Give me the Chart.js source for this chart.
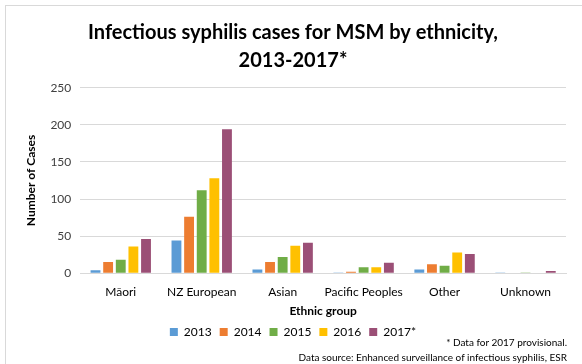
<!DOCTYPE html>
<html>
<head>
<meta charset="utf-8">
<script src="https://cdn.jsdelivr.net/npm/chart.js@4/dist/chart.umd.min.js"></script>
<style>
  html, body { margin: 0; padding: 0; background: #fff; }
  #wrap { position: relative; width: 582px; height: 364px; overflow: hidden; }
  #frame { position: absolute; left: 5px; top: 5px; width: 600px; height: 400px; border: 1px solid #d9d9d9; box-sizing: border-box; }
  #chartBox { position: absolute; left: 0; top: 0; width: 582px; height: 364px; }
  .note { position: absolute; right: 15px; font-family: Lato, "Noto Sans", sans-serif; font-size: 10px; color: #000; white-space: nowrap; }
</style>
</head>
<body>
<div id="wrap">
  <div id="frame"></div>
  <div id="chartBox"><canvas id="evoChart"></canvas></div>
  <div class="note" style="top:336px">* Data for 2017 provisional.</div>
  <div class="note" style="top:351px">Data source: Enhanced surveillance of infectious syphilis, ESR</div>
</div>
<script>
const categories = ["Māori", "NZ European", "Asian", "Pacific Peoples", "Other", "Unknown"];
const years = ["2013", "2014", "2015", "2016", "2017*"];
const cases2013 = [4, 44, 5, 1, 5, 1];
const cases2014 = [15, 76, 15, 2, 12, 0];
const cases2015 = [18, 112, 22, 8, 10, 1];
const cases2016 = [36, 128, 37, 8, 28, 0];
const cases2017 = [46, 194, 41, 14, 26, 3];
const yTicks = [0, 50, 100, 150, 200, 250];

const colors = ["#5B9BD5", "#ED7D31", "#70AD47", "#FFC000", "#9B4F76"];
const series = [cases2013, cases2014, cases2015, cases2016, cases2017];
const font = "Lato, 'Noto Sans', sans-serif";

const ctx = document.getElementById("evoChart").getContext("2d");
new Chart(ctx, {
    type: "bar",
    data: {
        labels: categories,
        datasets: series.map((s, i) => ({
            label: years[i],
            data: s,
            backgroundColor: colors[i],
            borderWidth: 0,
            categoryPercentage: 0.78,
            barPercentage: 0.78
        }))
    },
    options: {
        responsive: true,
        maintainAspectRatio: false,
        animation: false,
        layout: { padding: { left: 20, right: 16, top: 6, bottom: 16 } },
        plugins: {
            title: {
                display: true,
                text: ["Infectious syphilis cases for MSM by ethnicity,", "2013-2017*"],
                color: "#000",
                font: { family: font, size: 20, weight: "bold", lineHeight: 1.42 },
                padding: { top: 12, bottom: 13 }
            },
            legend: {
                position: "bottom",
                labels: {
                    color: "#000",
                    font: { family: font, size: 12 },
                    boxWidth: 8,
                    boxHeight: 8,
                    padding: 8
                }
            },
            tooltip: { enabled: false }
        },
        scales: {
            y: {
                min: 0,
                max: yTicks[yTicks.length - 1],
                afterBuildTicks: axis => { axis.ticks = yTicks.map(v => ({ value: v })); },
                grid: { color: "#d9d9d9", drawTicks: false },
                border: { display: false },
                ticks: { color: "#404040", font: { family: font, size: 12 }, padding: 9 },
                title: { display: true, text: "Number of Cases", color: "#000", font: { family: font, size: 12, weight: "bold" }, padding: { top: 4, bottom: 3 } }
            },
            x: {
                grid: { display: false },
                border: { color: "#d9d9d9" },
                ticks: { color: "#000", font: { family: font, size: 12 }, padding: 4, maxRotation: 0, minRotation: 0, autoSkip: false },
                title: { display: true, text: "Ethnic group", color: "#000", font: { family: font, size: 12, weight: "bold" }, padding: { top: 0, bottom: 0 } }
            }
        }
    }
});
</script>
</body>
</html>
